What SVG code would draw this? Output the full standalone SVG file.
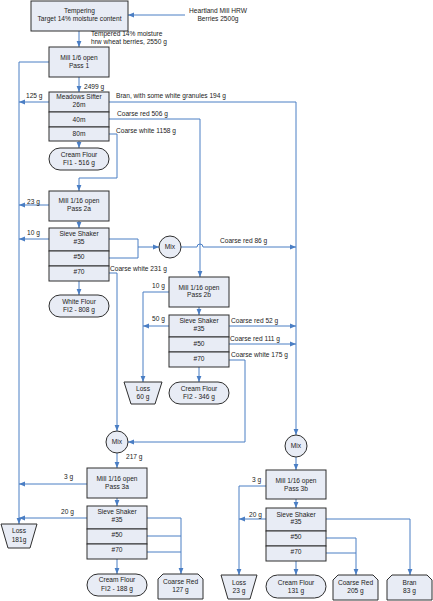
<svg xmlns="http://www.w3.org/2000/svg" width="433" height="601" viewBox="0 0 433 601">
<defs>
<marker id="ah" markerUnits="userSpaceOnUse" markerWidth="6" markerHeight="6" viewBox="0 0 6 6" refX="6" refY="3" orient="auto">
<path d="M0,0.6 L6,3 L0,5.4 Z" fill="#4a7ec4"/>
</marker>
<style>
.n{fill:#e8ecf5;stroke:#2e2e2e;stroke-width:1}
.t{font-family:"Liberation Sans",Arial,sans-serif;font-size:6.6px;fill:#222;text-anchor:middle}
.l{font-family:"Liberation Sans",Arial,sans-serif;font-size:6.6px;fill:#222}
.c{fill:none;stroke:#4a7ec4;stroke-width:1}
.a{marker-end:url(#ah)}
</style>
</defs>
<rect width="433" height="601" fill="#fff"/>

<g id="connectors">
<path class="c a" d="M185,15 H128"/>
<path class="c a" d="M79,31 V47"/>
<path class="c a" d="M79,77 V92"/>
<path class="c a" d="M49,62 H19 V524"/>
<path class="c a" d="M49,102 H19"/>
<path class="c a" d="M109,102 H296 V435"/>
<path class="c a" d="M109,119 H200 V277"/>
<path class="c a" d="M109,134 H117 V178 H79 V191"/>
<path class="c a" d="M79,141 V148"/>
<path class="c a" d="M49,205 H19"/>
<path class="c a" d="M79,221 V228"/>
<path class="c a" d="M49,239 H19"/>
<path class="c" d="M109,239 H138 V258 H109"/>
<path class="c a" d="M138,247 H159"/>
<path class="c a" d="M181,247 H197 A3,3 0 0 1 203,247 H296"/>
<path class="c a" d="M109,273 H117 V431"/>
<path class="c a" d="M79,281 V295"/>
<path class="c a" d="M169,292 H143 V382"/>
<path class="c a" d="M199,307 V315"/>
<path class="c a" d="M169,326 H143"/>
<path class="c a" d="M229,326 H296"/>
<path class="c a" d="M229,344 H296"/>
<path class="c a" d="M229,360 H245 V442 H128"/>
<path class="c a" d="M199,367 V382"/>
<path class="c a" d="M117,453 V468"/>
<path class="c a" d="M87,484 H19"/>
<path class="c a" d="M117,498 V506"/>
<path class="c a" d="M87,518 H19"/>
<path class="c a" d="M147,518 H181 V574"/>
<path class="c" d="M147,536 H181"/>
<path class="c" d="M147,552 H181"/>
<path class="c a" d="M117,559 V574"/>
<path class="c a" d="M296,457 V470"/>
<path class="c a" d="M266,486 H239 V575"/>
<path class="c a" d="M296,499 V508"/>
<path class="c a" d="M266,519 H239"/>
<path class="c a" d="M326,519 H410 V575"/>
<path class="c a" d="M326,538 H356 V575"/>
<path class="c" d="M326,553 H356"/>
<path class="c a" d="M296,561 V575"/>
</g>

<g id="labels">
<text class="t" x="218" y="12.8">Heartland Mill HRW</text>
<text class="t" x="218" y="20.8">Berries 2500g</text>
<text class="l" x="91" y="36">Tempered 14% moisture</text>
<text class="l" x="91" y="44">hrw wheat berries, 2550 g</text>
<text class="l" x="84" y="88.5">2499 g</text>
<text class="l" x="26" y="98.3">125 g</text>
<text class="l" x="116" y="98.3">Bran, with some white granules 194 g</text>
<text class="l" x="117" y="115.7">Coarse red 506 g</text>
<text class="l" x="116" y="132.7">Coarse white 1158 g</text>
<text class="l" x="27" y="203.5">23 g</text>
<text class="l" x="27" y="235">10 g</text>
<text class="l" x="110" y="270.7">Coarse white 231 g</text>
<text class="l" x="220" y="243.3">Coarse red 86 g</text>
<text class="l" x="152" y="288.3">10 g</text>
<text class="l" x="152" y="321">50 g</text>
<text class="l" x="231" y="323.3">Coarse red 52 g</text>
<text class="l" x="230" y="341">Coarse red 111 g</text>
<text class="l" x="231" y="356.7">Coarse white 175 g</text>
<text class="l" x="126" y="459.3">217 g</text>
<text class="l" x="64" y="479">3 g</text>
<text class="l" x="61" y="514.3">20 g</text>
<text class="l" x="252" y="482.3">3 g</text>
<text class="l" x="249" y="516.7">20 g</text>
</g>

<g id="tempering">
<rect class="n" x="31" y="1" width="97" height="30"/>
<text class="t" x="79.5" y="12.8">Tempering</text>
<text class="t" x="79.5" y="20.8">Target 14% moisture content</text>
</g>

<g id="mill1">
<rect class="n" x="49" y="47" width="60" height="30"/>
<text class="t" x="79" y="60">Mill 1/6 open</text>
<text class="t" x="79" y="67.7">Pass 1</text>
</g>

<g id="sifter">
<rect class="n" x="49" y="92" width="60" height="20"/>
<rect class="n" x="49" y="112" width="60" height="15"/>
<rect class="n" x="49" y="127" width="60" height="14"/>
<text class="t" x="79" y="99.3">Meadows Sifter</text>
<text class="t" x="79" y="107.3">26m</text>
<text class="t" x="79" y="121.5">40m</text>
<text class="t" x="79" y="135.8">80m</text>
</g>

<g id="creamflour1">
<rect class="n" x="49" y="148" width="60" height="22" rx="11"/>
<text class="t" x="79" y="156.8">Cream Flour</text>
<text class="t" x="79" y="165">FI1 - 516 g</text>
</g>

<g id="mill2a">
<rect class="n" x="49" y="191" width="60" height="30"/>
<text class="t" x="79" y="203.3">Mill 1/16 open</text>
<text class="t" x="79" y="210.7">Pass 2a</text>
</g>

<g id="sieve2a">
<rect class="n" x="49" y="228" width="60" height="23"/>
<rect class="n" x="49" y="251" width="60" height="15"/>
<rect class="n" x="49" y="266" width="60" height="15"/>
<text class="t" x="79" y="236">Sieve Shaker</text>
<text class="t" x="79" y="244">#35</text>
<text class="t" x="79" y="259">#50</text>
<text class="t" x="79" y="274">#70</text>
</g>

<g id="mix1">
<circle class="n" cx="170" cy="247" r="11"/>
<text class="t" x="170" y="249.3">Mix</text>
</g>

<g id="whiteflour">
<rect class="n" x="49" y="295" width="60" height="22" rx="11"/>
<text class="t" x="79" y="304">White Flour</text>
<text class="t" x="79" y="312.3">FI2 - 808 g</text>
</g>

<g id="mill2b">
<rect class="n" x="169" y="277" width="60" height="30"/>
<text class="t" x="199" y="290">Mill 1/16 open</text>
<text class="t" x="199" y="297.3">Pass 2b</text>
</g>

<g id="sieve2b">
<rect class="n" x="169" y="315" width="60" height="22"/>
<rect class="n" x="169" y="337" width="60" height="15"/>
<rect class="n" x="169" y="352" width="60" height="15"/>
<text class="t" x="199" y="323.3">Sieve Shaker</text>
<text class="t" x="199" y="331">#35</text>
<text class="t" x="199" y="345.7">#50</text>
<text class="t" x="199" y="360.7">#70</text>
</g>

<g id="loss60">
<polygon class="n" points="124,382 162,382 155,404 131,404"/>
<text class="t" x="143" y="390.7">Loss</text>
<text class="t" x="143" y="398.7">60 g</text>
</g>

<g id="creamflour346">
<rect class="n" x="169" y="382" width="60" height="22" rx="11"/>
<text class="t" x="199" y="390.7">Cream Flour</text>
<text class="t" x="199" y="398.5">FI2 - 346 g</text>
</g>

<g id="mix2">
<circle class="n" cx="117" cy="442" r="11"/>
<text class="t" x="117" y="444.3">Mix</text>
</g>

<g id="mix3">
<circle class="n" cx="296" cy="446" r="11"/>
<text class="t" x="296" y="448.3">Mix</text>
</g>

<g id="mill3a">
<rect class="n" x="87" y="468" width="60" height="30"/>
<text class="t" x="117" y="481">Mill 1/16 open</text>
<text class="t" x="117" y="488.5">Pass 3a</text>
</g>

<g id="sieve3a">
<rect class="n" x="87" y="506" width="60" height="23"/>
<rect class="n" x="87" y="529" width="60" height="15"/>
<rect class="n" x="87" y="544" width="60" height="15"/>
<text class="t" x="117" y="514.3">Sieve Shaker</text>
<text class="t" x="117" y="522.3">#35</text>
<text class="t" x="117" y="537.3">#50</text>
<text class="t" x="117" y="552.3">#70</text>
</g>

<g id="loss181">
<polygon class="n" points="1,524 37,524 30,548 8,548"/>
<text class="t" x="19" y="533.3">Loss</text>
<text class="t" x="19" y="541.7">181g</text>
</g>

<g id="creamflour188">
<rect class="n" x="87" y="574" width="60" height="22" rx="11"/>
<text class="t" x="117" y="582.3">Cream Flour</text>
<text class="t" x="117" y="590.7">FI2 - 188 g</text>
</g>

<g id="coarsered127">
<polygon class="n" points="163,574 198,574 203,579 203,599 158,599 158,579"/>
<text class="t" x="180.5" y="584.3">Coarse Red</text>
<text class="t" x="180.5" y="592.3">127 g</text>
</g>

<g id="mill3b">
<rect class="n" x="266" y="470" width="60" height="29"/>
<text class="t" x="296" y="483.3">Mill 1/16 open</text>
<text class="t" x="296" y="491">Pass 3b</text>
</g>

<g id="sieve3b">
<rect class="n" x="266" y="508" width="60" height="23"/>
<rect class="n" x="266" y="531" width="60" height="15"/>
<rect class="n" x="266" y="546" width="60" height="15"/>
<text class="t" x="296" y="516.7">Sieve Shaker</text>
<text class="t" x="296" y="524.3">#35</text>
<text class="t" x="296" y="539">#50</text>
<text class="t" x="296" y="554">#70</text>
</g>

<g id="loss23">
<polygon class="n" points="221,575 257,575 250,599 228,599"/>
<text class="t" x="239" y="584.7">Loss</text>
<text class="t" x="239" y="592.7">23 g</text>
</g>

<g id="creamflour131">
<rect class="n" x="266" y="575" width="60" height="23" rx="11.5"/>
<text class="t" x="296" y="584.7">Cream Flour</text>
<text class="t" x="296" y="592.7">131 g</text>
</g>

<g id="coarsered205">
<polygon class="n" points="338,575 373,575 378,580 378,600 333,600 333,580"/>
<text class="t" x="355.5" y="584.7">Coarse Red</text>
<text class="t" x="355.5" y="592.7">205 g</text>
</g>

<g id="bran83">
<polygon class="n" points="392,575 427,575 432,580 432,600 387,600 387,580"/>
<text class="t" x="409.5" y="584.7">Bran</text>
<text class="t" x="409.5" y="592.7">83 g</text>
</g>
</svg>
